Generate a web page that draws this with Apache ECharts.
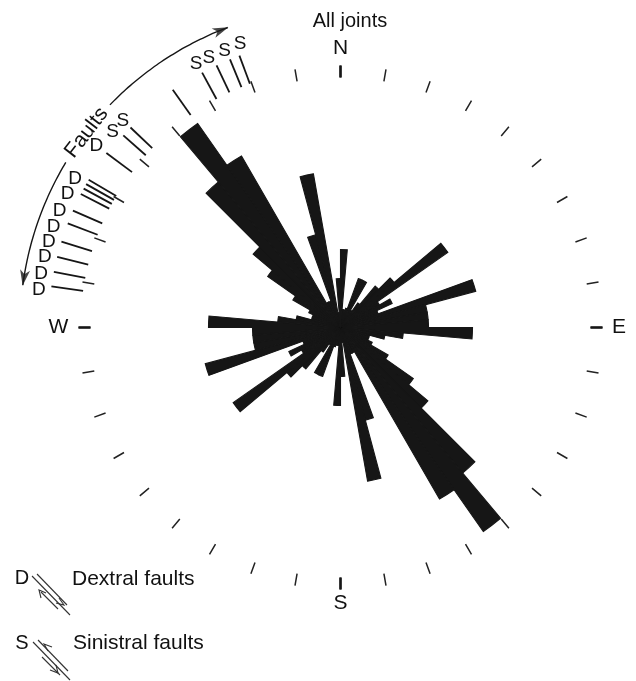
<!DOCTYPE html>
<html><head><meta charset="utf-8">
<script src="https://cdn.jsdelivr.net/npm/echarts@6/dist/echarts.min.js"></script>
<style>html,body{margin:0;padding:0;background:#fff}#c{width:636px;height:681px}</style>
</head><body><div id="c"></div>
<script>
// Joint strike frequency, 5-degree bins from N (0) clockwise to 175; bidirectional rose, so 180-355 repeats these
const binStart = [0,5,10,15,20,25,30,35,40,45,50,55,60,65,70,75,80,85,90,95,100,105,110,115,120,125,130,135,140,145,150,155,160,165,170,175];
const jointFreq = [7.8,1.8,1.8,2.0,5.2,5.2,2.0,3.0,5.4,7.0,13.1,4.5,5.7,4.0,14.0,8.8,8.8,8.8,13.2,6.3,4.5,3.0,3.0,3.5,5.5,8.9,11.4,19.0,24.9,19.8,2.8,2.8,9.6,15.6,1.5,4.9];

// Fault strikes (degrees azimuth), drawn as radial marks outside the rose
const dextralAz = [306.7, 300.4, 299.4, 298.4, 297.2, 293.6, 290.9, 287.1, 284.0, 281.0, 278.1];
const dextralLabelAz = [306.6, 299.2, 296.1, 292.5, 289.3, 286.4, 283.5, 280.1, 277.1];
const sinistralAz = [313.6, 311.5, 331.5, 334.7, 337.6, 339.6];
const sinistralLabelAz = [313.6, 310.7, 331.3, 334.0, 337.3, 340.5];
const otherFaultAz = [324.8];
const faultArc = [[277.6, 301.0], [314.0, 339.4]];

const compassText = ['N','E','S','W'];
const compassAz = [0, 90, 180, 270];
const compassR = [27.9, 27.85, 27.6, 28.2];

const CX = 340.5, CY = 327.5;
const FONT = '"Liberation Sans", Arial, Helvetica, sans-serif';
const INK = '#161616';
const TXT = '#111';

const cats = [];
const roseData = [];
for (let k = 0; k < 2; k++) binStart.forEach((b, i) => { cats.push(String(b + 180 * k)); roseData.push(jointFreq[i]); });

const series = [];
series.push({
  type: 'bar', coordinateSystem: 'polar', polarIndex: 0, data: roseData,
  barCategoryGap: '0%', silent: true,
  itemStyle: { color: INK, borderColor: INK, borderWidth: 1.1 }
});

function seg(az, r0, r1, w) {
  series.push({ type: 'line', coordinateSystem: 'polar', polarIndex: 1, symbol: 'none', silent: true,
    data: [[r0, az], [r1, az]], lineStyle: { color: INK, width: w } });
}
dextralAz.forEach(a => seg(a, 26.0, 29.2, 1.8));
sinistralAz.forEach(a => seg(a, 26.0, 29.0, 1.8));
otherFaultAz.forEach(a => seg(a, 26.0, 29.1, 1.8));
// bold cardinal ticks
compassAz.forEach(a => seg(a, 25.0, 26.2, 2.6));

faultArc.forEach(([a0, a1]) => {
  const pts = [];
  for (let a = a0; a < a1; a += 1) pts.push([32.05, a]);
  pts.push([32.05, a1]);
  series.push({ type: 'line', coordinateSystem: 'polar', polarIndex: 1, symbol: 'none', silent: true,
    smooth: true, data: pts, lineStyle: { color: INK, width: 1.4 } });
});

const d2r = Math.PI / 180;
const arrowA = faultArc[0][0] + 1.3, arrowB = faultArc[1][1] - 1.3;
series.push({ type: 'scatter', coordinateSystem: 'polar', polarIndex: 1, silent: true,
  symbol: 'path://M0,0 L5,15 L0,11 L-5,15 Z', symbolSize: [10, 16],
  itemStyle: { color: INK },
  data: [
    { value: [32.05, arrowA], symbolRotate: Math.atan2(Math.cos(arrowA * d2r), Math.sin(arrowA * d2r)) / d2r },
    { value: [32.05, arrowB], symbolRotate: Math.atan2(-Math.cos(arrowB * d2r), -Math.sin(arrowB * d2r)) / d2r }
  ]
});

function labels(list, size) {
  series.push({ type: 'scatter', coordinateSystem: 'polar', polarIndex: 1, silent: true,
    symbolSize: 0.01, itemStyle: { color: '#fff', opacity: 1 },
    data: list.map(d => ({ value: [d[0], d[1]], label: Object.assign({ show: true, position: 'inside', formatter: d[2],
      color: TXT, opacity: 1, textBorderWidth: 0, fontFamily: FONT, fontSize: size }, d[3] || {}) }))
  });
}
labels(dextralLabelAz.map(a => [30.4, a, 'D']), 19);
labels(sinistralLabelAz.map(a => [30.05, a, 'S']), 19);
labels(compassAz.map((a, i) => [compassR[i], a, compassText[i]]), 21);
labels([[32.0, 307.5, 'Faults', { rotate: 52.5 }]], 21);

const option = {
  animation: false,
  backgroundColor: '#fff',
  polar: [
    { center: [CX, CY], radius: 250 },
    { center: [CX, CY], radius: 330 }
  ],
  angleAxis: [
    { polarIndex: 0, type: 'category', data: cats, startAngle: 90, clockwise: true, boundaryGap: true,
      axisLine: { show: false }, axisLabel: { show: false }, splitLine: { show: false },
      axisTick: { show: true, interval: 1, length: 12, lineStyle: { color: '#222', width: 1.5 } } },
    { polarIndex: 1, type: 'value', min: 0, max: 360, startAngle: 90, clockwise: true, show: false }
  ],
  radiusAxis: [
    { polarIndex: 0, type: 'value', min: 0, max: 25, show: false },
    { polarIndex: 1, type: 'value', min: 0, max: 33, show: false }
  ],
  graphic: [
    { type: 'text', x: 350, y: 21, style: { text: 'All joints', font: '20px ' + FONT, fill: TXT, align: 'center', verticalAlign: 'middle' } },
    { type: 'text', x: 22, y: 578, style: { text: 'D', font: '20px ' + FONT, fill: TXT, align: 'center', verticalAlign: 'middle' } },
    { type: 'text', x: 72, y: 579, style: { text: 'Dextral faults', font: '21px ' + FONT, fill: TXT, align: 'left', verticalAlign: 'middle' } },
    { type: 'text', x: 22, y: 643, style: { text: 'S', font: '20px ' + FONT, fill: TXT, align: 'center', verticalAlign: 'middle' } },
    { type: 'text', x: 73, y: 643, style: { text: 'Sinistral faults', font: '21px ' + FONT, fill: TXT, align: 'left', verticalAlign: 'middle' } },
    // dextral glyph
    { type: 'line', shape: { x1: 32, y1: 576, x2: 70, y2: 615 }, style: { stroke: '#333', lineWidth: 1.1 } },
    { type: 'line', shape: { x1: 37, y1: 574, x2: 67, y2: 605 }, style: { stroke: '#333', lineWidth: 1.1 } },
    { type: 'line', shape: { x1: 41, y1: 592, x2: 58, y2: 609 }, style: { stroke: '#333', lineWidth: 1.1 } },
    { type: 'polyline', shape: { points: [[59, 598], [64, 605], [56, 603]] }, style: { stroke: '#333', lineWidth: 1.1, fill: null } },
    { type: 'polyline', shape: { points: [[41, 598], [39, 590], [46, 593]] }, style: { stroke: '#333', lineWidth: 1.1, fill: null } },
    // sinistral glyph
    { type: 'line', shape: { x1: 33, y1: 642, x2: 70, y2: 680 }, style: { stroke: '#333', lineWidth: 1.1 } },
    { type: 'line', shape: { x1: 38, y1: 640, x2: 68, y2: 671 }, style: { stroke: '#333', lineWidth: 1.1 } },
    { type: 'line', shape: { x1: 42, y1: 657, x2: 60, y2: 675 }, style: { stroke: '#333', lineWidth: 1.1 } },
    { type: 'polyline', shape: { points: [[48, 651], [44, 644], [52, 647]] }, style: { stroke: '#333', lineWidth: 1.1, fill: null } },
    { type: 'polyline', shape: { points: [[56, 665], [58, 673], [50, 670]] }, style: { stroke: '#333', lineWidth: 1.1, fill: null } }
  ],
  series: series
};
const chart = echarts.init(document.getElementById('c'), null, { renderer: 'canvas' });
chart.setOption(option);
</script></body></html>
